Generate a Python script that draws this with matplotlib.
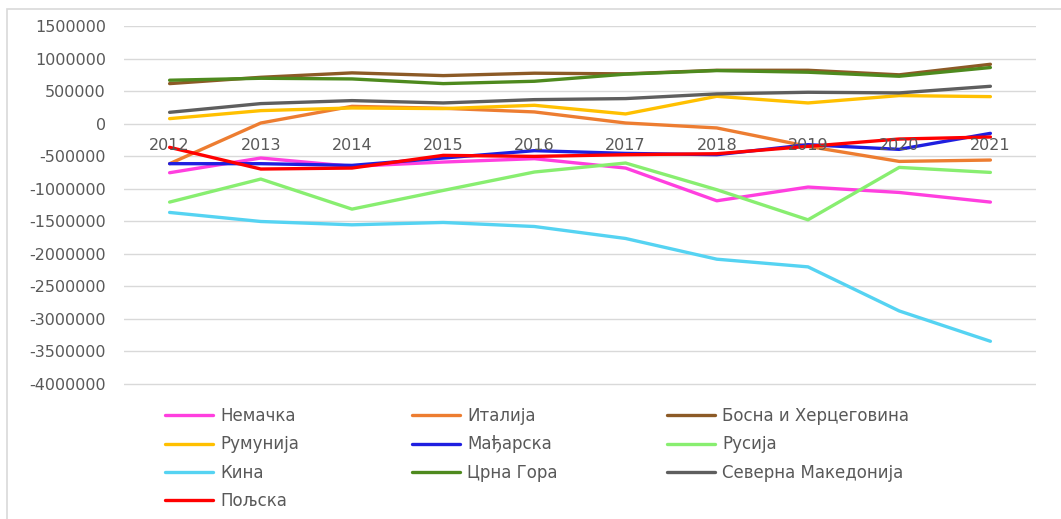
import matplotlib.pyplot as plt
from matplotlib.patches import Rectangle

# Трговински биланс по земљама, 2012-2021
years = ['2012', '2013', '2014', '2015', '2016', '2017', '2018', '2019', '2020', '2021']

nemacka = [-754000, -528000, -656000, -590000, -538000, -682000, -1185000, -974000, -1057000, -1205000]
italija = [-615000, 10000, 266000, 236000, 180000, 10000, -66000, -349000, -580000, -559000]
bosna = [615000, 712000, 780000, 738000, 775000, 765000, 820000, 820000, 750000, 912000]
rumunija = [77000, 200000, 241000, 231000, 282000, 149000, 420000, 318000, 431000, 415000]
madjarska = [-615000, -615000, -641000, -528000, -415000, -457000, -477000, -323000, -395000, -149000]
rusija = [-1205000, -851000, -1313000, -1026000, -743000, -605000, -1015000, -1477000, -672000, -749000]
kina = [-1364000, -1503000, -1554000, -1518000, -1580000, -1764000, -2082000, -2200000, -2877000, -3343000]
crna_gora = [667000, 697000, 687000, 615000, 651000, 760000, 815000, 790000, 728000, 862000]
makedonija = [174000, 308000, 354000, 318000, 369000, 385000, 457000, 482000, 472000, 574000]
poljska = [-364000, -697000, -682000, -487000, -503000, -477000, -462000, -349000, -236000, -205000]

series = [
    ('Немачка', nemacka, '#FF3FDF'),
    ('Италија', italija, '#ED7D31'),
    ('Босна и Херцеговина', bosna, '#8C5A26'),
    ('Румунија', rumunija, '#FFC000'),
    ('Мађарска', madjarska, '#1F1FE0'),
    ('Русија', rusija, '#88EE70'),
    ('Кина', kina, '#55D3F2'),
    ('Црна Гора', crna_gora, '#4E8A1E'),
    ('Северна Македонија', makedonija, '#5E5E5E'),
    ('Пољска', poljska, '#FF0000'),
]

W, H = 1061, 519
fig = plt.figure(figsize=(W / 100, H / 100), dpi=100)
ax = fig.add_axes([124 / W, 1 - 386 / H, (1036 - 124) / W, (386 - 26) / H])

# рам око целог графикона
fig.patches.append(Rectangle((7 / W, -0.1), 1.2, 1 - 9 / H + 0.1, transform=fig.transFigure,
                             fill=False, edgecolor='#D9D9D9', linewidth=1.2))

x = list(range(len(years)))
handles = []
for name, vals, color in series:
    h, = ax.plot(x, vals, color=color, linewidth=2.4, label=name, solid_capstyle='round')
    handles.append(h)

ax.set_xlim(-0.5, len(years) - 0.5)
ax.set_ylim(-4030000, 1500000)
ax.set_yticks(range(-4000000, 1500001, 500000))
ax.set_yticklabels([str(v) for v in range(-4000000, 1500001, 500000)])
ax.grid(axis='y', color='#D9D9D9', linewidth=1)
ax.set_axisbelow(True)
ax.set_xticks([])
for s in ax.spines.values():
    s.set_visible(False)
ax.tick_params(axis='y', length=0, pad=13, labelsize=11.5, labelcolor='#595959')

# ознаке година уз осу на нули
for i, yr in enumerate(years):
    ax.annotate(yr, (i, 0), xytext=(0, -10), textcoords='offset points',
                ha='center', va='top', fontsize=11.5, color='#595959')

# легенда у три колоне, ред по ред као у Excel-у
col_x = [165, 412, 667]
for c in range(3):
    hs = handles[c::3]
    leg = fig.legend(hs, [h.get_label() for h in hs], loc='upper left',
                     bbox_to_anchor=(col_x[c] / W, 1 - 407 / H), frameon=False,
                     borderpad=0, borderaxespad=0, handlelength=2.9, handletextpad=0.4,
                     labelspacing=0.62, prop={'size': 12})
    for t in leg.get_texts():
        t.set_color('#595959')

fig.savefig('out.png', dpi=100)
